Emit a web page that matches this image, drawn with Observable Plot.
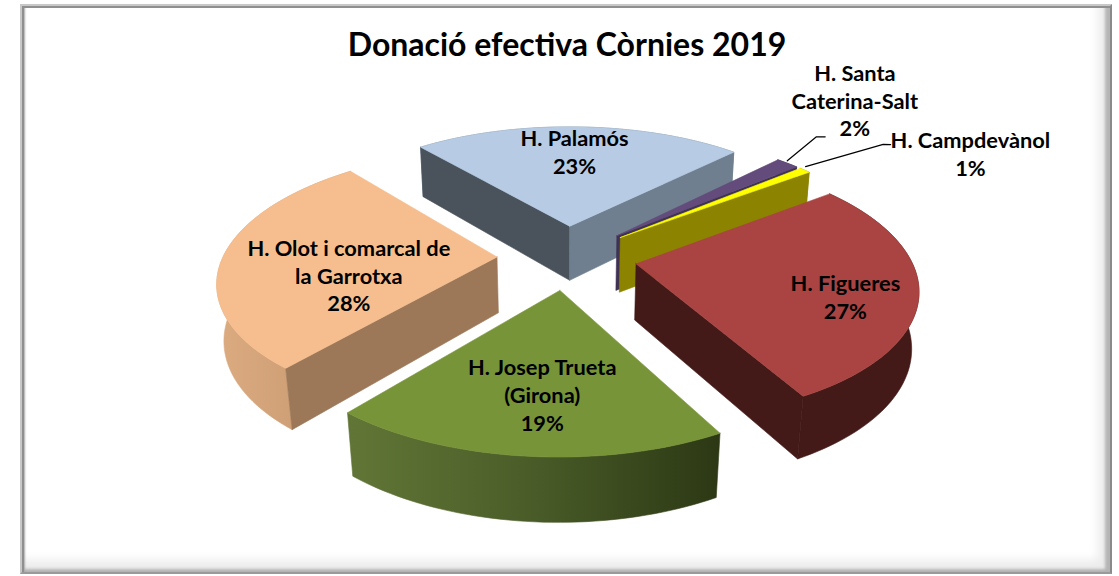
<!DOCTYPE html>
<html><head><meta charset="utf-8">
<script src="https://cdn.jsdelivr.net/npm/d3@7"></script>
<script src="https://cdn.jsdelivr.net/npm/@observablehq/plot@0.6"></script>
<style>
html,body{margin:0;padding:0;background:#fff;overflow:hidden}
#frame{position:absolute;left:20px;top:4px;width:1092px;height:570px;box-sizing:border-box;
border-top:2px solid #c8c8c8;border-left:2px solid #c8c8c8;border-right:2px solid #8a8a8a;border-bottom:2px solid #9a9a9a;
box-shadow:inset 2px 2px 0 #8f8f8f, inset 3px 0 2px #aaa, inset -5px -3px 3px #b5b5b5, inset -12px -12px 10px #ececec}
#chart{position:absolute;left:0;top:0}
</style></head><body>
<div id="frame"></div><div id="chart"></div>
<script>
const title = "Donació efectiva Còrnies 2019";
const hospitals = ["H. Palamós","H. Santa\nCaterina-Salt","H. Campdevànol","H. Figueres","H. Josep Trueta\n(Girona)","H. Olot i comarcal de\nla Garrotxa"];
// estimated shares; the labels show them rounded
const shares = [23.3,1.6,0.8,27.4,18.9,28];
const topColors = ["#b7cce4","#634c7c","#ffff00","#a94442","#779438","#f6be8e"];
const leftCut = ["#4a535c","#3f3254","#8c8400","#431a18","#4e5f2a","#9c7859"];
const rightCut = ["#6f7f8f","#3f3254","#8c8400","#431a18","#4e5f2a","#9c7859"];
const wallFill = ["#6f7f8f","#3f3254","#8c8400","#431a18","url(#gGreen)","url(#gOrange)"];
const drawOrder = [0,1,2,5,3,4];
// label placement in pie polar terms (degrees clockwise from up, fraction of radius)
const labelAngle = [1.7,39,62.1,108.5,184.4,255.3];
const labelRadius = [0.73,1.82,1.71,0.755,0.67,0.54];
// leader lines: [angle, radius] per called-out slice
const leaders = {1:[[46.2,1.02],[42.9,1.32],[44.1,1.346]],2:[[50.2,1.03],[52.3,1.466],[53.1,1.49]]};

const W=1119,H=576, cx=566.5, cy=256.5, R=274, explode=70, depth=64, tilt=27.3*Math.PI/180, D=1440, startDeg=-39.6;
const rad=d=>d*Math.PI/180;
function project(X,Y,Z){const w=D-Y*Math.cos(tilt)-Z*Math.sin(tilt);return {x:cx+D*X/w,y:cy+D*(Y*Math.sin(tilt)-Z*Math.cos(tilt))/w};}
let acc=startDeg;
const total=d3.sum(shares);
const slices=shares.map((v,i)=>{const a0=acc,a1=acc+v/total*360;acc=a1;const m=(a0+a1)/2;
  return {i,a0,a1,m,ax:explode*Math.sin(rad(m)),ay:-explode*Math.cos(rad(m))};});
const pt=(s,deg,r,z)=>project(s.ax+r*R*Math.sin(rad(deg)),s.ay-r*R*Math.cos(rad(deg)),z);
const arc=(s,z)=>{const n=Math.max(4,Math.ceil((s.a1-s.a0)/1.5));return d3.range(n+1).map(k=>pt(s,s.a0+(s.a1-s.a0)*k/n,1,z));};
const poly=(pts,fill)=>Plot.line([...pts,pts[0]],{x:"x",y:"y",fill,stroke:fill,strokeWidth:0.6,curve:"linear"});

const marks=[()=>{
  const defs=d3.create("svg:defs");
  const grad=(id,stops)=>{const g=defs.append("linearGradient").attr("id",id);stops.forEach(([o,c])=>g.append("stop").attr("offset",o).attr("stop-color",c));};
  grad("gGreen",[[0,"#617636"],[0.45,"#4c5f2a"],[1,"#2c3814"]]);
  grad("gOrange",[[0,"#dcab80"],[0.5,"#d0a077"],[1,"#c4976f"]]);
  return defs.node();
}];
for(const i of drawOrder){const s=slices[i];
  const top=arc(s,0),bot=arc(s,-depth);
  const apexT=pt(s,0,0,0),apexB=pt(s,0,0,-depth);
  marks.push(poly([...top,...bot.slice().reverse()],wallFill[i]));
  if(Math.sin(rad(s.a0))<0) marks.push(poly([apexT,top[0],bot[0],apexB],leftCut[i]));
  if(Math.sin(rad(s.a1))>0) marks.push(poly([apexT,top[top.length-1],bot[bot.length-1],apexB],rightCut[i]));
  marks.push(poly([apexT,...top],topColors[i]));
}
for(const k of Object.keys(leaders)){const s=slices[k];
  marks.push(Plot.line(leaders[k].map(([a,r])=>pt(s,a,r,0)),{x:"x",y:"y",stroke:"#000",strokeWidth:1.2,curve:"linear"}));
}
const labels=slices.map(s=>({...pt(s,labelAngle[s.i],labelRadius[s.i],0),text:`${hospitals[s.i]}\n${Math.max(1,Math.round(shares[s.i]))}%`}));
marks.push(Plot.text(labels,{x:"x",y:"y",text:"text",fontFamily:"Lato",fontWeight:700,fontSize:21.8,lineHeight:1.28,fill:"#000",textAnchor:"middle"}));
marks.push(Plot.text([title],{x:()=>cx,y:()=>45,text:d=>d,fontFamily:"Lato",fontWeight:700,fontSize:32,fill:"#000"}));

document.getElementById("chart").append(Plot.plot({
  width:W,height:H,margin:0,
  x:{domain:[0,W],range:[0,W],axis:null},
  y:{domain:[0,H],range:[0,H],axis:null},
  style:{background:"transparent"},
  marks
}));
</script></body></html>
